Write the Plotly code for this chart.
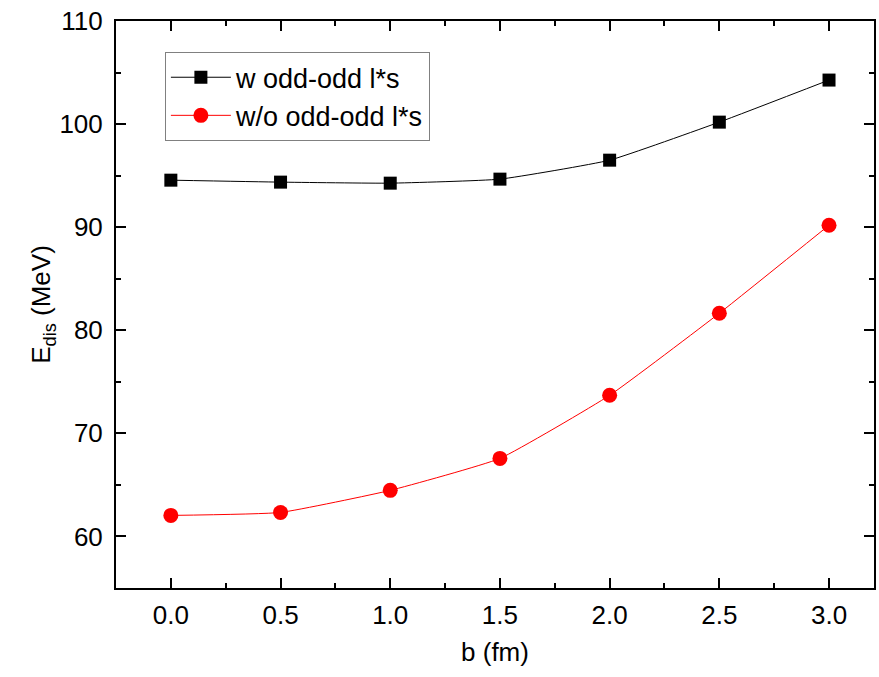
import plotly.graph_objects as go

b = [0.0, 0.5, 1.0, 1.5, 2.0, 2.5, 3.0]
e_with = [94.56, 94.37, 94.27, 94.66, 96.5, 100.19, 104.27]
e_without = [62.04, 62.33, 64.47, 67.57, 73.69, 81.65, 90.19]
x_ticks = [0.0, 0.5, 1.0, 1.5, 2.0, 2.5, 3.0]
x_ticklabels = ["0.0", "0.5", "1.0", "1.5", "2.0", "2.5", "3.0"]
y_ticks = [60, 70, 80, 90, 100, 110]

font = "Liberation Sans, Arial, sans-serif"
fsize = 26

fig = go.Figure()
fig.add_trace(go.Scatter(
    x=b, y=e_with, name="w odd-odd l*s", mode="lines+markers",
    line=dict(color="black", width=1, shape="spline", smoothing=0.4),
    marker=dict(symbol="square", size=13, color="black"),
))
fig.add_trace(go.Scatter(
    x=b, y=e_without, name="w/o odd-odd l*s", mode="lines+markers",
    line=dict(color="red", width=1, shape="spline", smoothing=0.4),
    marker=dict(symbol="circle", size=15, color="red"),
))

axis_common = dict(
    showline=True, linecolor="black", linewidth=2, mirror="ticks",
    ticks="inside", ticklen=10, tickwidth=2, tickcolor="black",
    showgrid=False, zeroline=False,
    tickfont=dict(family=font, size=fsize, color="black"),
)

fig.update_xaxes(
    range=[-0.25, 3.205], tickvals=x_ticks, ticktext=x_ticklabels,
    minor=dict(ticks="inside", ticklen=5, tickwidth=2, tickcolor="black", dtick=0.25, showgrid=False),
    title=dict(text="b (fm)", font=dict(family=font, size=fsize, color="black"), standoff=14),
    ticklabelstandoff=3,
    **axis_common,
)
fig.update_yaxes(
    range=[55, 110], tickvals=y_ticks,
    minor=dict(ticks="inside", ticklen=5, tickwidth=2, tickcolor="black", dtick=5, showgrid=False),
    title=dict(text="E<sub>dis</sub> (MeV)", font=dict(family=font, size=fsize, color="black"), standoff=1),
    ticklabelstandoff=6,
    **axis_common,
)

fig.update_layout(
    width=879, height=677,
    margin=dict(l=116, r=3, t=21, b=89),
    plot_bgcolor="white", paper_bgcolor="white",
    legend=dict(
        x=0.0645, y=0.945, xanchor="left", yanchor="top",
        bordercolor="#808080", borderwidth=1, bgcolor="white",
        font=dict(family=font, size=27, color="black"),
        itemwidth=60, tracegroupgap=0,
    ),
    showlegend=True,
)

fig.write_html("out.html")
